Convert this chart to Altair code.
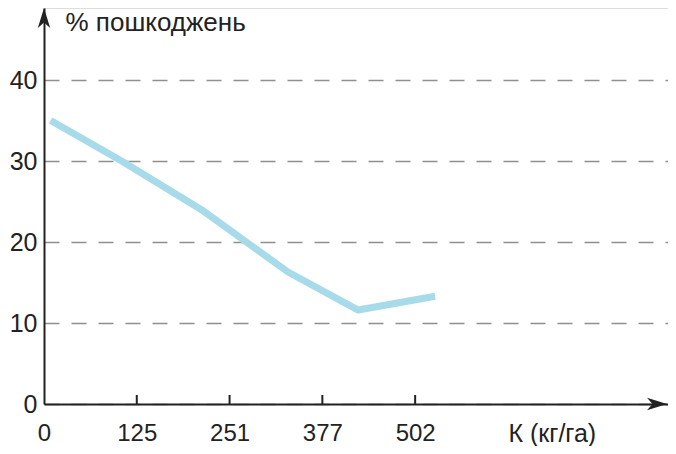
import altair as alt
import pandas as pd

# data
potassium = [9, 105, 213, 330, 425, 529]          # кг/га
damage = [35.0, 30.0, 24.0, 16.3, 11.6, 13.3]      # % пошкоджень
x_tick_values = [0, 125.5, 251, 376.5, 502]
x_tick_labels = ["0", "125", "251", "377", "502"]
y_tick_values = [0, 10, 20, 30, 40]

df = pd.DataFrame({"k": potassium, "d": damage})
ticks_df = pd.DataFrame({"t": x_tick_values[1:]})

FONT = "Liberation Sans"
TXT = "#222222"

W, H = 624, 396

xscale = alt.Scale(domain=[0, 844], nice=False)
yscale = alt.Scale(domain=[0, 48.9], nice=False, zero=True)

vals_js = "[" + ",".join(str(v) for v in x_tick_values) + "]"
labs_js = "[" + ",".join("'" + s + "'" for s in x_tick_labels) + "]"
label_expr = f"{labs_js}[indexof({vals_js}, datum.value)]"

line = alt.Chart(df).mark_line(
    color="#a8dbe9", strokeWidth=7, strokeJoin="round", clip=False
).encode(
    x=alt.X("k:Q", scale=xscale, axis=alt.Axis(
        values=x_tick_values, labelExpr=label_expr, domain=True,
        domainColor=TXT, domainWidth=2, ticks=False, tickSize=0, grid=False,
        labelFont=FONT, labelFontSize=24, labelColor=TXT, labelPadding=29,
        labelBaseline="middle", labelFlush=False,
        title="К (кг/га)", titleFont=FONT, titleFontSize=25, titleFontWeight="normal",
        titleColor=TXT, titleX=464, titleY=29, titleAlign="left", titleBaseline="middle",
    )),
    y=alt.Y("d:Q", scale=yscale, axis=alt.Axis(
        values=y_tick_values, domain=True, domainColor=TXT, domainWidth=2,
        ticks=False, tickSize=0, grid=True, gridColor="#8f8f8f", gridWidth=1.5,
        gridDash=[15, 12], labelFont=FONT, labelFontSize=25, labelColor=TXT,
        labelPadding=7, labelBaseline="middle", labelFlush=False,
        title="% пошкоджень", titleFont=FONT, titleFontSize=26, titleFontWeight="normal",
        titleColor=TXT, titleAngle=0, titleX=21, titleY=14, titleAlign="left",
        titleBaseline="middle",
    )),
)

xticks = alt.Chart(ticks_df).mark_rule(color=TXT, strokeWidth=2).encode(
    x=alt.X("t:Q", scale=xscale),
    y=alt.value(H),
    y2=alt.value(H - 9),
)

arrow_right = alt.Chart(pd.DataFrame({"a": [0]})).mark_point(
    shape="M1,0L-1,-0.62L-0.45,0L-1,0.62Z", filled=True, color=TXT, opacity=1,
    size=400, clip=False
).encode(
    x=alt.value(W - 11),
    y=alt.Y("a:Q", scale=yscale),
)

arrow_up = alt.Chart(pd.DataFrame({"a": [0]})).mark_point(
    shape="M0,-1L0.62,1L0,0.45L-0.62,1Z", filled=True, color=TXT, opacity=1,
    size=400, clip=False
).encode(
    x=alt.X("a:Q", scale=xscale),
    y=alt.value(10),
)

chart = alt.layer(line, xticks, arrow_right, arrow_up).properties(
    width=W,
    height=H,
    autosize=alt.AutoSizeParams(type="none"),
    padding={"left": 36, "top": 0, "right": 0, "bottom": 42},
).configure_view(stroke=None).configure(background="white")

chart.save("out.html", embed_options={"renderer": "svg", "actions": False})
